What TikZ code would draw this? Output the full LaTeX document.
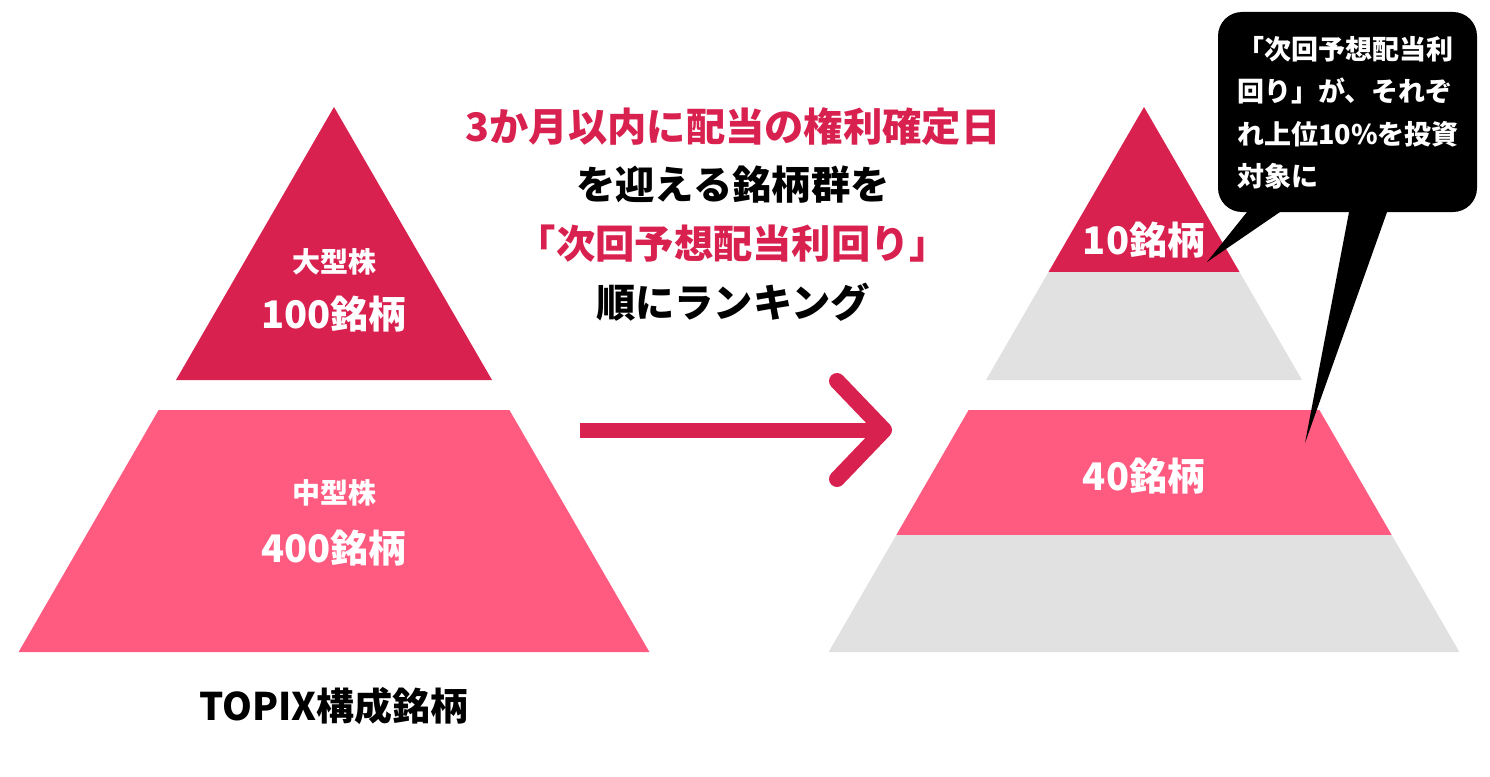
\documentclass[tikz,border=0pt]{standalone}
\usepackage{fontspec}
\setmainfont{Noto Sans CJK JP}
\definecolor{dred}{HTML}{D92150}
\definecolor{pinkc}{HTML}{FF5B81}
\definecolor{lgray}{HTML}{E1E1E1}
\begin{document}
\begin{tikzpicture}[x=1pt,y=-1pt,
  big/.style={font=\bfseries\fontsize{38}{44}\selectfont, inner sep=0pt},
  mid/.style={font=\bfseries\fontsize{39.3}{44}\selectfont, inner sep=0pt},
  small/.style={font=\bfseries\fontsize{28}{34}\selectfont, inner sep=0pt},
  wlbl/.style={text=white},
  arrowline/.style={draw=dred, line width=15pt},
  chevron/.style={draw=dred, line width=16pt, line cap=round, line join=round}]
\path[use as bounding box, fill=white] (0,0) rectangle (1490,776);

% left pyramid
\fill[dred] (334,107) -- (492,380) -- (176,380) -- cycle;
\fill[pinkc] (158.6,410) -- (509.4,410) -- (649.4,652) -- (18.6,652) -- cycle;

% right pyramid
\fill[dred] (1144,107) -- (1239.5,272) -- (1048.5,272) -- cycle;
\fill[lgray] (1048.5,272) -- (1239.5,272) -- (1302,380) -- (986,380) -- cycle;
\fill[pinkc] (968.6,410) -- (1319.4,410) -- (1391.7,535) -- (896.3,535) -- cycle;
\fill[lgray] (896.3,535) -- (1391.7,535) -- (1459.4,652) -- (828.6,652) -- cycle;

% labels
\node[small,wlbl] (l1a) at (334,262) {大型株};
\node[big,wlbl] (l1b) at (334,314) {100銘柄};
\node[small,wlbl] (l2a) at (334,493) {中型株};
\node[big,wlbl] (l2b) at (334,548) {400銘柄};
\node[big,wlbl] (r1) at (1144,240) {10銘柄};
\node[big,wlbl] (r2) at (1144,476) {40銘柄};
\node[big] (topix) at (334,706) {TOPIX構成銘柄};

% middle text
\node[mid,text=dred] (t1) at (733,127) {3か月以内に配当の権利確定日};
\node[mid] (t2) at (733,185) {を迎える銘柄群を};
\node[mid,text=dred] (t3) at (733,244) {「次回予想配当利回り」};
\node[mid] (t4) at (733,302) {順にランキング};

% arrow
\coordinate (aS) at (580,430);
\coordinate (aE) at (884,430);
\coordinate (cU) at (837,381);
\coordinate (cL) at (837,479);
\draw[arrowline] (aS) -- (aE);
\draw[chevron] (cU) -- (aE) -- (cL);

% callout
\fill[black, rounded corners=24pt] (1218,12) rectangle (1477,212);
\coordinate (tip1) at (1207,262);
\coordinate (tip2) at (1305,443);
\fill[black] (1256.6,200) -- (tip1) -- (1297.5,200) -- cycle;
\fill[black] (1351.3,200) -- (tip2) -- (1391.3,200) -- cycle;
\node[font=\bfseries\fontsize{27}{42.5}\selectfont, text=white, inner sep=0pt, align=left, anchor=north west] (call) at (1237,36)
  {「次回予想配当利\\回り」が、それぞ\\れ上位10\%を投資\\対象に};
\end{tikzpicture}
\end{document}
